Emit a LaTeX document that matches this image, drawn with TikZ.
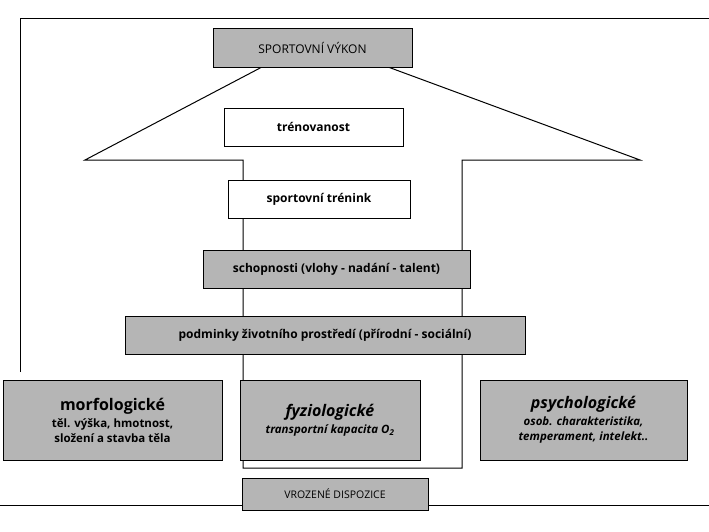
\documentclass[tikz,border=0pt]{standalone}
\usepackage{fontspec}
\setmainfont{Open Sans}
\begin{document}
\begin{tikzpicture}[x=1pt,y=-1pt,
  bx/.style={draw=black,line width=0.9pt,fill=#1,inner sep=0pt,align=center,font=\bfseries\fontsize{12}{14}\selectfont},
  bx/.default=boxgray]
\definecolor{boxgray}{HTML}{B5B5B5}
\useasboundingbox[fill=white] (0,0) rectangle (709,532);
\draw[line width=0.7pt] (20,372) -- (20,18) -- (709,18);
\draw[line width=0.7pt] (0,505) -- (709,505);
% arrow
\coordinate (a1) at (243,468); \coordinate (a2) at (243,160); \coordinate (a3) at (85,160);
\coordinate (a4) at (262,67); \coordinate (a5) at (388,67); \coordinate (a6) at (640,160);
\coordinate (a7) at (462,160); \coordinate (a8) at (462,468);
\draw[line width=1pt,fill=white] (a1) -- (a2) -- (a3) -- (a4) -- (a5) -- (a6) -- (a7) -- (a8) -- cycle;
\node[bx,minimum width=199pt,minimum height=39pt,font=\fontsize{12}{14}\selectfont] (vykon) at (312.5,47.5) {SPORTOVNÍ VÝKON};
\node[bx=white,minimum width=179pt,minimum height=38pt] (tren) at (313.5,127) {trénovanost};
\node[bx=white,minimum width=182pt,minimum height=38pt] (trenink) at (319,199) {sportovní trénink};
\node[bx,minimum width=267pt,minimum height=38pt] (schop) at (336.5,269) {schopnosti (vlohy - nadání - talent)};
\node[bx,minimum width=400pt,minimum height=38pt] (podm) at (325,335) {podminky životního prostředí (přírodní - sociální)};
\node[bx,minimum width=219pt,minimum height=80pt,font=\bfseries\fontsize{11.5}{15}\selectfont] (morf) at (112.5,420) {{\fontsize{16}{18}\selectfont morfologické}\\[2pt]těl. výška, hmotnost,\\složení a stavba těla};
\node[bx,minimum width=180pt,minimum height=80pt,font=\bfseries\fontsize{11.5}{15}\selectfont] (fyz) at (330,420) {{\fontsize{16}{18}\selectfont\itshape fyziologické}\\[2pt]{\itshape transportní kapacita O\textsubscript{2}}};
\node[bx,minimum width=207pt,minimum height=80pt,font=\bfseries\fontsize{11.5}{15}\selectfont] (psych) at (583.5,420) {{\fontsize{16}{18}\selectfont\itshape psychologické}\\[2pt]{\itshape osob. charakteristika,}\\{\itshape temperament, intelekt..}};
\node[bx,minimum width=186pt,minimum height=32pt,font=\fontsize{10.5}{12}\selectfont] (vroz) at (335,494) {VROZENÉ DISPOZICE};
\end{tikzpicture}
\end{document}
